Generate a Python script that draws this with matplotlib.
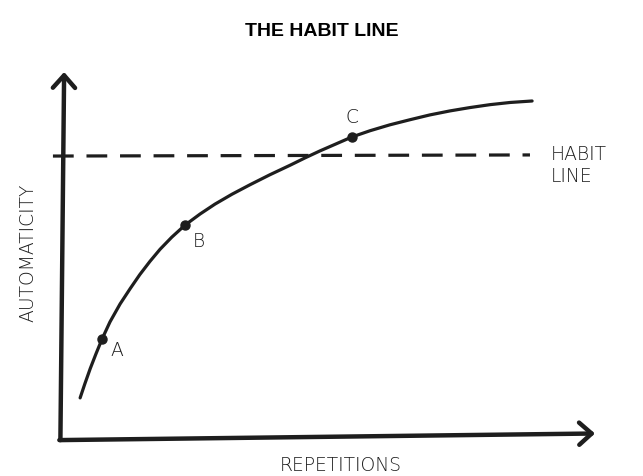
import matplotlib.pyplot as plt

# curve (repetitions, automaticity), axes run 0..100
reps = [3.4, 4.3, 5.3, 6.4, 7.5, 9.0, 10.9, 12.8, 14.6, 16.5, 18.4, 20.6,
        23.1, 25.9, 28.7, 31.9, 35.3, 39.0, 42.8, 45.6, 48.4, 51.4, 54.4,
        57.8, 61.5, 65.3, 69.0, 72.8, 76.5, 80.3, 84.1, 88.2]
auto = [11.2, 15.1, 19.2, 23.3, 27.2, 31.9, 36.8, 41.0, 44.8, 48.4, 51.7,
        55.0, 58.3, 61.3, 64.0, 66.7, 69.3, 72.0, 74.6, 76.6, 78.5, 80.4,
        82.3, 84.0, 85.6, 87.0, 88.3, 89.4, 90.3, 91.1, 91.7, 92.1]

pt_names = ["A", "B", "C"]
pt_x = [7.5, 23.1, 54.4]
pt_y = [27.2, 58.3, 82.3]

habit_y = 77.1
habit_x = [-1.7, 87.8]

ink = "#1e1e1e"
font = "DejaVu Sans"

fig = plt.figure(figsize=(6.43, 4.77), dpi=100)
ax = fig.add_axes([62 / 643, 37 / 477, 533 / 643, 367 / 477])
ax.set_xlim(0, 100)
ax.set_ylim(0, 100)
ax.axis("off")

# axes as arrows
arrow = dict(arrowstyle="->, head_length=0.45, head_width=0.4", lw=3.2,
             color=ink, mutation_scale=20, shrinkA=0, shrinkB=0,
             capstyle="round")
ax.annotate("", xy=(100, 1.5), xytext=(-0.5, -0.3), arrowprops=arrow,
            annotation_clip=False)
ax.annotate("", xy=(0.4, 100), xytext=(-0.3, -0.3), arrowprops=arrow,
            annotation_clip=False)

# habit line
ax.plot(habit_x, [habit_y, habit_y + 0.3], color=ink, lw=2.3,
        dashes=(6.5, 4), clip_on=False)

# the curve
ax.plot(reps, auto, color=ink, lw=2.3, solid_capstyle="round",
        solid_joinstyle="round", clip_on=False)
ax.plot(pt_x, pt_y, "o", color=ink, ms=6.5)

offs = [(2.8, -2.7), (2.6, -4.3), (0.0, 5.7)]
for n, x, y, (dx, dy) in zip(pt_names, pt_x, pt_y, offs):
    ax.text(x + dx, y + dy, n, fontsize=13.5, family=font, weight="light",
            color=ink, ha="center", va="center")

ax.text(91.7, 77.7, "HABIT", fontsize=13.5, family=font, weight="light",
        color=ink, ha="left", va="center", clip_on=False)
ax.text(91.7, 71.7, "LINE", fontsize=13.5, family=font, weight="light",
        color=ink, ha="left", va="center", clip_on=False)

fig.text(322 / 643, 1 - 31 / 477, "THE HABIT LINE", fontsize=14,
         family="Liberation Sans", weight="bold", ha="center", va="center")
fig.text(341 / 643, 1 - 466 / 477, "REPETITIONS", fontsize=13.5,
         family=font, weight="light", color=ink, ha="center", va="center")
fig.text(28 / 643, 1 - 253 / 477, "AUTOMATICITY", fontsize=13.5,
         family=font, weight="light", color=ink, ha="center", va="center",
         rotation=90)

fig.savefig("out.png", dpi=100)
